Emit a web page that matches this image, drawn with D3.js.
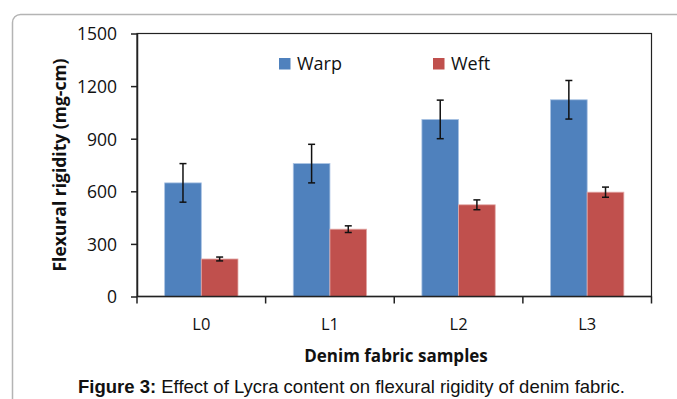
<!DOCTYPE html>
<html>
<head>
<meta charset="utf-8">
<script src="https://cdn.jsdelivr.net/npm/d3@7"></script>
<style>
  body { margin: 0; background: #fff; }
  svg text { fill: #111; }
</style>
</head>
<body>
<svg id="chart" width="677" height="399"></svg>
<script>
const samples = ['L0', 'L1', 'L2', 'L3'];
const series = ['Warp', 'Weft'];
const warp = [648, 758, 1010, 1122];
const warp_err = [110, 110, 110, 110];
const weft = [214, 384, 523, 595];
const weft_err = [11, 19, 28, 29];
const y_ticks = [0, 300, 600, 900, 1200, 1500];
const colors = { Warp: '#4F81BD', Weft: '#C0504D' };

const svg = d3.select('#chart');

// outer frame, only top-left corner visible
svg.append('rect')
  .attr('x', 12.5).attr('y', 14.5)
  .attr('width', 700).attr('height', 420)
  .attr('rx', 8)
  .attr('fill', 'none')
  .attr('stroke', '#b4b4b4')
  .attr('stroke-width', 1.5);

const plot = { left: 137, top: 33.5, right: 651.5, bottom: 296.5 };

const x0 = d3.scaleBand()
  .domain(samples)
  .range([plot.left, plot.right]);
const x1 = d3.scaleBand()
  .domain(series)
  .range([0, x0.bandwidth()])
  .paddingOuter(0.754);
const y = d3.scaleLinear()
  .domain([0, 1500])
  .range([plot.bottom, plot.top]);

const font = "'Open Sans', sans-serif";

const rows = samples.map((s, i) => ({
  sample: s,
  values: [
    { key: 'Warp', value: warp[i], err: warp_err[i] },
    { key: 'Weft', value: weft[i], err: weft_err[i] },
  ]
}));

// plot border
svg.append('rect')
  .attr('x', plot.left).attr('y', plot.top)
  .attr('width', plot.right - plot.left)
  .attr('height', plot.bottom - plot.top)
  .attr('fill', 'none')
  .attr('stroke', '#222')
  .attr('stroke-width', 1.2);

const groups = svg.selectAll('g.sample')
  .data(rows)
  .join('g')
  .attr('class', 'sample')
  .attr('transform', d => `translate(${x0(d.sample)},0)`);

groups.selectAll('rect.bar')
  .data(d => d.values)
  .join('rect')
  .attr('class', 'bar')
  .attr('x', d => x1(d.key))
  .attr('y', d => y(d.value))
  .attr('width', x1.bandwidth())
  .attr('height', d => y(0) - y(d.value))
  .attr('fill', d => colors[d.key])
  .attr('stroke', d => d.key === 'Warp' ? '#a9c2e3' : '#e3a9a7')
  .attr('stroke-width', 0.8);

// error bars
const eb = groups.selectAll('g.err')
  .data(d => d.values)
  .join('g')
  .attr('class', 'err')
  .attr('stroke', '#111')
  .attr('stroke-width', 1.5);
const cx = d => x1(d.key) + x1.bandwidth() / 2;
eb.append('line')
  .attr('x1', cx).attr('x2', cx)
  .attr('y1', d => y(d.value + d.err))
  .attr('y2', d => y(d.value - d.err));
eb.append('line')
  .attr('x1', d => cx(d) - 3.5).attr('x2', d => cx(d) + 3.5)
  .attr('y1', d => y(d.value + d.err)).attr('y2', d => y(d.value + d.err));
eb.append('line')
  .attr('x1', d => cx(d) - 3.5).attr('x2', d => cx(d) + 3.5)
  .attr('y1', d => y(d.value - d.err)).attr('y2', d => y(d.value - d.err));

// y axis
const gy = svg.append('g')
  .attr('transform', `translate(${plot.left},0)`)
  .call(d3.axisLeft(y).tickValues(y_ticks).tickFormat(d3.format('d'))
    .tickSize(6).tickPadding(14).tickSizeOuter(0));
gy.select('.domain').attr('stroke', '#222').attr('stroke-width', 1.5);
gy.selectAll('.tick line').attr('stroke', '#222').attr('stroke-width', 1.5);
gy.selectAll('text')
  .attr('font-family', font)
  .attr('font-size', 17.5)
  .attr('fill', '#111')
  .attr('dy', '0.36em');

// x axis, ticks at band edges
const gx = svg.append('g')
  .attr('transform', `translate(0,${plot.bottom})`);
gx.append('line')
  .attr('x1', plot.left).attr('x2', plot.right)
  .attr('stroke', '#222').attr('stroke-width', 1.5);
gx.selectAll('line.tick')
  .data(samples.concat(['end']))
  .join('line')
  .attr('class', 'tick')
  .attr('x1', (d, i) => plot.left + i * x0.step())
  .attr('x2', (d, i) => plot.left + i * x0.step())
  .attr('y1', 0).attr('y2', 7)
  .attr('stroke', '#222').attr('stroke-width', 1.5);
gx.selectAll('text')
  .data(samples)
  .join('text')
  .attr('x', d => x0(d) + x0.bandwidth() / 2)
  .attr('y', 33)
  .attr('text-anchor', 'middle')
  .attr('font-family', font)
  .attr('font-size', 16.5)
  .text(d => d);

// legend
const legend_x = [279, 433];
const lg = svg.selectAll('g.legend')
  .data(series)
  .join('g')
  .attr('class', 'legend')
  .attr('transform', (d, i) => `translate(${legend_x[i]},58)`);
lg.append('rect')
  .attr('width', 11.5).attr('height', 11.5)
  .attr('fill', d => colors[d]);
lg.append('text')
  .attr('x', 18).attr('y', 11.8)
  .attr('font-family', font)
  .attr('font-size', 18)
  .text(d => d);

// axis titles
svg.append('text')
  .attr('transform', `translate(66,${(plot.top + plot.bottom) / 2}) rotate(-90)`)
  .attr('text-anchor', 'middle')
  .attr('font-family', font)
  .attr('font-weight', 'bold')
  .attr('font-size', 17.5)
  .text('Flexural rigidity (mg-cm)');

svg.append('text')
  .attr('x', 396).attr('y', 362)
  .attr('text-anchor', 'middle')
  .attr('font-family', font)
  .attr('font-weight', 'bold')
  .attr('font-size', 17)
  .text('Denim fabric samples');

// caption
const cap = svg.append('text')
  .attr('x', 351.5).attr('y', 393)
  .attr('text-anchor', 'middle')
  .attr('font-family', "'Liberation Sans', Arial, sans-serif")
  .attr('font-size', 18.5);
cap.append('tspan').attr('font-weight', 'bold').text('Figure 3:');
cap.append('tspan').text(' Effect of Lycra content on flexural rigidity of denim fabric.');
</script>
</body>
</html>
